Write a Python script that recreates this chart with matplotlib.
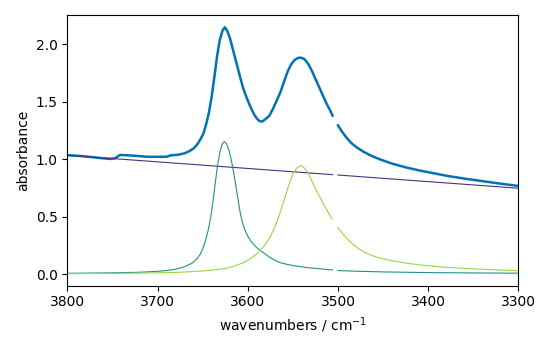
import numpy as np
import matplotlib
matplotlib.use("Agg")
import matplotlib.pyplot as plt

nan = np.nan

# measured spectrum (gap = masked region near 3503 cm-1)
data_wn = [3800, 3786, 3771, 3760, 3753, 3747, 3742, 3734, 3723, 3712, 3701, 3690,
           3686, 3677, 3670, 3665, 3660, 3656, 3652, 3649, 3646, 3643, 3640, 3637,
           3634, 3631, 3628, 3625.5, 3623, 3620, 3617, 3614, 3611, 3608, 3605, 3601,
           3597, 3593, 3590, 3587, 3584, 3581, 3576, 3572, 3568, 3564, 3560, 3556,
           3552, 3548, 3544, 3541, 3537, 3533, 3529, 3525, 3521, 3517, 3513, 3509,
           3506, 3503, 3500, 3495, 3490, 3485, 3480, 3472, 3463, 3453, 3440, 3425,
           3410, 3395, 3380, 3360, 3340, 3320, 3300]
data_abs = [1.035, 1.029, 1.017, 1.008, 1.003, 1.009, 1.037, 1.035, 1.029, 1.022, 1.021, 1.022,
            1.033, 1.040, 1.052, 1.070, 1.095, 1.130, 1.180, 1.230, 1.310, 1.410, 1.550, 1.720,
            1.900, 2.040, 2.120, 2.148, 2.120, 2.060, 1.970, 1.880, 1.790, 1.700, 1.615, 1.530,
            1.455, 1.390, 1.355, 1.332, 1.328, 1.345, 1.380, 1.440, 1.510, 1.580, 1.670, 1.760,
            1.825, 1.865, 1.882, 1.884, 1.870, 1.830, 1.770, 1.700, 1.630, 1.560, 1.490, 1.430,
            1.380, nan, 1.295, 1.235, 1.183, 1.140, 1.108, 1.067, 1.030, 0.998, 0.962, 0.930,
            0.903, 0.880, 0.857, 0.832, 0.810, 0.788, 0.768]

# linear baseline
base_wn = [3800, 3506, 3503, 3500, 3300]
base_abs = [1.035, 0.866, nan, 0.863, 0.748]

# first fitted component
p1_wn = [3800, 3750, 3720, 3700, 3690, 3680, 3672, 3666, 3661, 3657, 3653, 3650,
         3647, 3644, 3641, 3638.5, 3636, 3633.5, 3631, 3628.5, 3626, 3623.5, 3621, 3618.5,
         3616, 3613.5, 3611, 3608.5, 3606, 3603, 3600, 3596, 3592, 3588, 3584, 3578,
         3572, 3564, 3556, 3550, 3542, 3535, 3520, 3506, 3503, 3500, 3480, 3450,
         3400, 3350, 3300]
p1_abs = [0.008, 0.012, 0.017, 0.025, 0.032, 0.044, 0.060, 0.080, 0.100, 0.130, 0.170, 0.220,
          0.290, 0.380, 0.500, 0.640, 0.800, 0.950, 1.060, 1.130, 1.155, 1.135, 1.080, 1.000,
          0.900, 0.780, 0.660, 0.540, 0.450, 0.380, 0.330, 0.282, 0.245, 0.218, 0.195, 0.160,
          0.130, 0.100, 0.085, 0.076, 0.066, 0.058, 0.047, 0.037, nan, 0.032, 0.026, 0.020,
          0.014, 0.011, 0.009]

# second fitted component
p2_wn = [3800, 3750, 3700, 3675, 3650, 3638, 3625, 3615, 3605, 3598, 3592, 3587,
         3582, 3577, 3573, 3569, 3565, 3561, 3557, 3553, 3549, 3545, 3541.5, 3538,
         3534, 3530, 3526, 3522, 3516, 3511, 3506.5, 3503, 3500, 3495, 3490, 3485,
         3480, 3472, 3463, 3453, 3440, 3425, 3410, 3398, 3380, 3361, 3340, 3320,
         3300]
p2_abs = [0.004, 0.007, 0.012, 0.017, 0.028, 0.037, 0.050, 0.070, 0.100, 0.130, 0.165, 0.200,
          0.245, 0.300, 0.360, 0.430, 0.515, 0.615, 0.715, 0.810, 0.885, 0.930, 0.944, 0.930,
          0.890, 0.830, 0.760, 0.700, 0.610, 0.540, 0.480, nan, 0.405, 0.355, 0.310, 0.272,
          0.240, 0.197, 0.165, 0.139, 0.117, 0.097, 0.082, 0.072, 0.060, 0.051, 0.043, 0.036,
          0.031]

fig = plt.figure(figsize=(5.5, 3.5), dpi=100)
ax = fig.add_axes([0.1227, 0.1837, 0.8196, 0.7734])

ax.plot(data_wn, data_abs, color='#0173b2', lw=1.8)
ax.plot(base_wn, base_abs, color='#46337e', lw=0.8)
ax.plot(p1_wn, p1_abs, color='#21908d', lw=0.8)
ax.plot(p2_wn, p2_abs, color='#95d840', lw=0.8)

ax.set_xlim(3800, 3300)
ax.set_ylim(-0.10, 2.255)
ax.set_xticks([3800, 3700, 3600, 3500, 3400, 3300])
ax.set_yticks([0.0, 0.5, 1.0, 1.5, 2.0])
ax.set_xlabel('wavenumbers / cm$^{-1}$')
ax.set_ylabel('absorbance')

fig.savefig('out.png', dpi=100)
